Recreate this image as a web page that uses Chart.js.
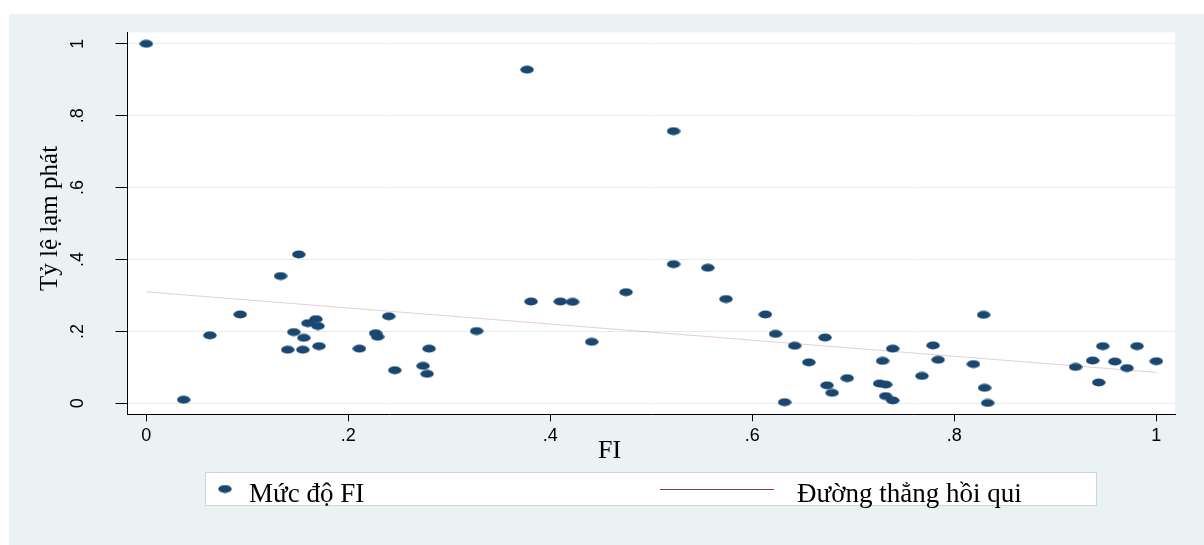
<!DOCTYPE html>
<html>
<head>
<meta charset="utf-8">
<title>FI và tỷ lệ lạm phát</title>
<script src="https://cdn.jsdelivr.net/npm/chart.js@4.4.1/dist/chart.umd.min.js"></script>
<style>
    html, body { margin: 0; padding: 0; background: #fff; }
    #wrap { position: relative; width: 1204px; height: 545px; }
</style>
</head>
<body>
<div id="wrap"><canvas id="fiChart" width="1204" height="545"></canvas></div>
<script>
// --- Data ---
const fiValues = [
    0.000, 0.037, 0.063, 0.093, 0.133, 0.140, 0.146, 0.151, 0.155, 0.156,
    0.160, 0.168, 0.170, 0.171, 0.211, 0.227, 0.229, 0.240, 0.246, 0.274,
    0.278, 0.280, 0.327, 0.377, 0.381, 0.410, 0.422, 0.441, 0.475, 0.522,
    0.522, 0.556, 0.574, 0.613, 0.623, 0.632, 0.642, 0.656, 0.672, 0.674,
    0.679, 0.694, 0.726, 0.729, 0.732, 0.732, 0.739, 0.739, 0.768, 0.779,
    0.784, 0.819, 0.829, 0.830, 0.833, 0.920, 0.937, 0.943, 0.947, 0.959,
    0.971, 0.981, 1.000
];
const inflationValues = [
    1.000, 0.010, 0.189, 0.247, 0.354, 0.149, 0.198, 0.414, 0.149, 0.182,
    0.223, 0.234, 0.215, 0.159, 0.152, 0.195, 0.185, 0.242, 0.092, 0.104,
    0.082, 0.152, 0.201, 0.928, 0.283, 0.283, 0.282, 0.171, 0.309, 0.757,
    0.387, 0.377, 0.290, 0.247, 0.193, 0.003, 0.160, 0.114, 0.183, 0.050,
    0.029, 0.070, 0.055, 0.118, 0.052, 0.020, 0.152, 0.008, 0.076, 0.161,
    0.121, 0.109, 0.246, 0.043, 0.001, 0.101, 0.119, 0.058, 0.159, 0.116,
    0.098, 0.159, 0.117
];
const fitX = [0, 1];
const fitY = [0.310, 0.086];

const xTicks = [0, 0.2, 0.4, 0.6, 0.8, 1];
const xTickLabels = ['0', '.2', '.4', '.6', '.8', '1'];
const yTicks = [0, 0.2, 0.4, 0.6, 0.8, 1];
const yTickLabels = ['0', '.2', '.4', '.6', '.8', '1'];

const seriesLabels = ['Mức độ FI', 'Đường thẳng hồi qui'];
const xTitle = 'FI';
const yTitle = 'Tỷ lệ lạm phát';

// --- Styles ---
const NAVY = '#1a476f';
const MAROON = '#8c3a45';
const PANEL = '#eaf2f3';
const SANS = '"Liberation Sans", Arial, sans-serif';
const SERIF = '"Liberation Serif", "Times New Roman", serif';

// Stata-like flat ellipse marker
function makeDot() {
    const c = document.createElement('canvas');
    c.width = 14;
    c.height = 9;
    const g = c.getContext('2d');
    g.fillStyle = NAVY;
    g.beginPath();
    g.ellipse(7, 4.5, 6.7, 3.9, 0, 0, Math.PI * 2);
    g.fill();
    return c;
}
const dot = makeDot();

const scatterPoints = fiValues.map((x, i) => ({ x: x, y: inflationValues[i] }));
const fitPoints = fitX.map((x, i) => ({ x: x, y: fitY[i] }));

// --- Background panels ---
const backdropPlugin = {
    id: 'backdrop',
    beforeDraw(chart) {
        const { ctx, chartArea: a } = chart;
        ctx.save();
        ctx.fillStyle = '#fff';
        ctx.fillRect(0, 0, chart.width, chart.height);
        ctx.fillStyle = PANEL;
        ctx.fillRect(9, 14, chart.width - 9, chart.height - 14);
        ctx.fillStyle = '#fff';
        ctx.fillRect(a.left, a.top, a.right - a.left, a.bottom - a.top);
        ctx.restore();
    }
};

// --- Rotated y labels, titles and boxed legend ---
const annotatePlugin = {
    id: 'annotate',
    afterDraw(chart) {
        const { ctx, chartArea: a } = chart;
        const yScale = chart.scales.y;
        ctx.save();
        ctx.fillStyle = '#000';

        // y tick labels, rotated like Stata
        ctx.font = '18px ' + SANS;
        ctx.textAlign = 'center';
        ctx.textBaseline = 'alphabetic';
        yTicks.forEach((v, i) => {
            ctx.save();
            ctx.translate(a.left - 45, yScale.getPixelForValue(v));
            ctx.rotate(-Math.PI / 2);
            ctx.fillText(yTickLabels[i], 0, 0);
            ctx.restore();
        });

        // axis titles
        ctx.font = '25px ' + SERIF;
        ctx.textAlign = 'left';
        ctx.save();
        ctx.translate(57, 291);
        ctx.rotate(-Math.PI / 2);
        ctx.fillText(yTitle, 0, 0);
        ctx.restore();

        ctx.font = '26px ' + SERIF;
        ctx.fillText(xTitle, 598, 457.5);

        // legend box
        ctx.fillStyle = '#fff';
        ctx.fillRect(205.5, 472.5, 891, 33);
        ctx.strokeStyle = '#d2d4d6';
        ctx.lineWidth = 1;
        ctx.strokeRect(205.5, 472.5, 891, 33);

        ctx.drawImage(dot, 225 - dot.width / 2, 489 - dot.height / 2);
        ctx.strokeStyle = MAROON;
        ctx.beginPath();
        ctx.moveTo(660, 489.5);
        ctx.lineTo(774, 489.5);
        ctx.stroke();

        ctx.fillStyle = '#000';
        ctx.font = '27px ' + SERIF;
        ctx.fillText(chart.data.datasets[0].label, 249, 502);
        ctx.fillText(chart.data.datasets[1].label, 797, 502);
        ctx.restore();
    }
};

new Chart(document.getElementById('fiChart').getContext('2d'), {
    type: 'scatter',
    data: {
        datasets: [
            {
                label: seriesLabels[0],
                data: scatterPoints,
                pointStyle: dot,
                pointRadius: 6,
                pointHoverRadius: 6
            },
            {
                type: 'line',
                label: seriesLabels[1],
                data: fitPoints,
                borderColor: 'rgba(150, 60, 75, 0.25)',
                borderWidth: 1,
                pointRadius: 0,
                fill: false,
                tension: 0
            }
        ]
    },
    options: {
        responsive: false,
        devicePixelRatio: 1,
        animation: false,
        events: [],
        layout: { padding: { left: 115.5, top: 32.5, right: 29, bottom: 90.7 } },
        plugins: {
            legend: { display: false },
            tooltip: { enabled: false }
        },
        scales: {
            x: {
                type: 'linear',
                min: -0.0186,
                max: 1.0185,
                afterBuildTicks: s => { s.ticks = xTicks.map(v => ({ value: v })); },
                afterFit: s => { s.height = 40; },
                grid: { drawOnChartArea: false, drawTicks: true, tickLength: 7, tickColor: '#000', tickWidth: 1 },
                border: { display: true, color: '#000', width: 1 },
                ticks: {
                    callback: (v, i) => xTickLabels[i],
                    font: { family: SANS, size: 18 },
                    color: '#000',
                    padding: 4,
                    maxRotation: 0,
                    autoSkip: false
                }
            },
            y: {
                type: 'linear',
                min: -0.0306,
                max: 1.0314,
                afterBuildTicks: s => { s.ticks = yTicks.map(v => ({ value: v })); },
                afterFit: s => { s.width = 12; },
                grid: { color: '#e4ecee', lineWidth: 1, drawTicks: true, tickLength: 12, tickColor: '#000', tickWidth: 1 },
                border: { display: true, color: '#000', width: 1 },
                ticks: { display: false }
            }
        }
    },
    plugins: [backdropPlugin, annotatePlugin]
});
</script>
</body>
</html>
